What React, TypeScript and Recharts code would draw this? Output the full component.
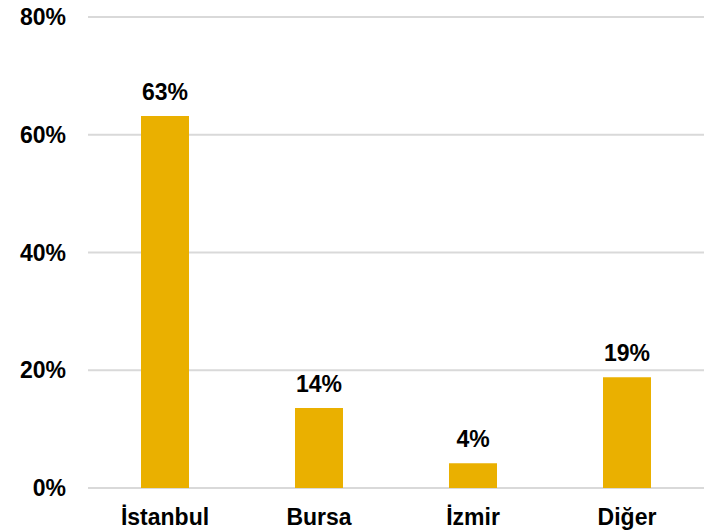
import React from 'react';
import { BarChart, Bar, XAxis, YAxis, CartesianGrid, LabelList } from 'recharts';

const cities = ['İstanbul', 'Bursa', 'İzmir', 'Diğer'];
const shares = [63.2, 13.6, 4.2, 18.8];
const yTicks = [0, 20, 40, 60, 80];

const data = cities.map((city, i) => ({ city, share: shares[i] }));

const font = '"Liberation Sans", Arial, sans-serif';
const tickStyle = { fontFamily: font, fontSize: 23, fontWeight: 700, fill: '#000' };

export default function App() {
  return (
    <div style={{ position: 'absolute', left: 0, top: 0, width: 704, height: 531, background: '#fff' }}>
      <BarChart
        width={704}
        height={531}
        data={data}
        margin={{ top: 17, right: 0, bottom: 0, left: 0 }}
        barSize={48}
      >
        <CartesianGrid vertical={false} stroke="#D9D9D9" strokeWidth={2} />
        <XAxis
          dataKey="city"
          axisLine={false}
          tickLine={false}
          tickSize={0}
          tickMargin={21}
          height={43}
          tick={tickStyle}
          interval={0}
        />
        <YAxis
          domain={[0, 80]}
          ticks={yTicks}
          axisLine={false}
          tickLine={false}
          tickSize={0}
          tickMargin={22}
          width={88}
          tick={tickStyle}
          tickFormatter={(v: number) => `${v}%`}
        />
        <Bar dataKey="share" fill="#EAB000" isAnimationActive={false}>
          <LabelList
            dataKey="share"
            position="top"
            offset={16}
            formatter={(v: number) => `${Math.round(v)}%`}
            style={{ fontFamily: font, fontSize: 23, fontWeight: 700, fill: '#000' }}
          />
        </Bar>
      </BarChart>
    </div>
  );
}
